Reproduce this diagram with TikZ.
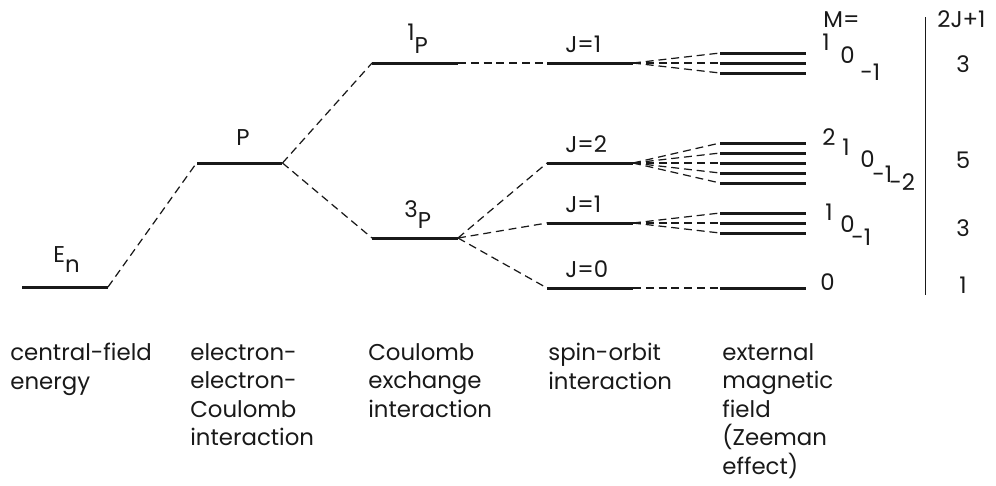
\documentclass[tikz,border=0pt]{standalone}
\usepackage{fontspec}
\setmainfont{Poppins}

\begin{document}
\begin{tikzpicture}[x=0.02cm,y=-0.02cm,
  level/.style={rectangle,fill=black!90,draw=none,inner sep=0,outer sep=0,
    minimum width=1.72cm,
    minimum height=1.7pt},
  trans/.style={black!90,line width=0.7pt,
    dash pattern=on 4.5pt off 2.8pt},
  lab/.style={anchor=base west,inner sep=0,text=black!90},
  num/.style={anchor=base,inner sep=0,text=black!90},
  note/.style={anchor=north west,inner sep=0,align=left,text=black!90}]
  \fontsize{13}{16.2}\selectfont
  \useasboundingbox (0,0) rectangle (996,485);
  % levels
  \node[level] (En) at (65,287) {};
  \node[level] (P) at (239.5,163) {};
  \node[level] (P1) at (415,63) {};
  \node[level] (P3) at (415,238) {};
  \node[level] (J1a) at (590,63) {};
  \node[level] (J2) at (590,163) {};
  \node[level] (J1b) at (590,223) {};
  \node[level] (J0) at (590,288) {};
  % Zeeman sublevels
  \node[level] (zA1) at (763,53) {};
  \node[level] (zA2) at (763,63) {};
  \node[level] (zA3) at (763,73) {};
  \node[level] (zB1) at (763,143) {};
  \node[level] (zB2) at (763,153) {};
  \node[level] (zB3) at (763,163) {};
  \node[level] (zB4) at (763,173) {};
  \node[level] (zB5) at (763,183) {};
  \node[level] (zC1) at (763,213) {};
  \node[level] (zC2) at (763,223) {};
  \node[level] (zC3) at (763,233) {};
  \node[level] (zD) at (763,288) {};
  % splittings
  \draw[trans] (En.east) -- (P.west);
  \draw[trans] (P.east) -- (P1.west);
  \draw[trans] (P.east) -- (P3.west);
  \draw[trans] (P1.east) -- (J1a.west);
  \draw[trans] (P3.east) -- (J2.west);
  \draw[trans] (P3.east) -- (J1b.west);
  \draw[trans] (P3.east) -- (J0.west);
  \draw[trans] (J1a.east) -- (zA1.west);
  \draw[trans] (J1a.east) -- (zA2.west);
  \draw[trans] (J1a.east) -- (zA3.west);
  \draw[trans] (J2.east) -- (zB1.west);
  \draw[trans] (J2.east) -- (zB2.west);
  \draw[trans] (J2.east) -- (zB3.west);
  \draw[trans] (J2.east) -- (zB4.west);
  \draw[trans] (J2.east) -- (zB5.west);
  \draw[trans] (J1b.east) -- (zC1.west);
  \draw[trans] (J1b.east) -- (zC2.west);
  \draw[trans] (J1b.east) -- (zC3.west);
  \draw[trans] (J0.east) -- (zD.west);
  % level labels
  \node[lab] (En-t) at (53,262) {E\raisebox{-5.7pt}{n}};
  \node[lab] (P-t) at (236,145) {P};
  \node[lab] (P1-t) at (407,53) {\raisebox{7.4pt}{1}P};
  \node[lab] (P3-t) at (404,228) {\raisebox{5.7pt}{3}P};
  \node[lab] (J1a-t) at (565,52) {J=1};
  \node[lab] (J2-t) at (565,152) {J=2};
  \node[lab] (J1b-t) at (565,212) {J=1};
  \node[lab] (J0-t) at (565,277) {J=0};
  % M values
  \node[lab] (M-t) at (823,27) {M=};
  \node[lab] (mA1) at (822,50) {1};
  \node[lab] (mA2) at (840,63) {0};
  \node[lab] (mA3) at (860,80) {-1};
  \node[lab] (mB1) at (822,145) {2};
  \node[lab] (mB2) at (842,155) {1};
  \node[lab] (mB3) at (860,167) {0};
  \node[lab] (mB4) at (872,182) {-1};
  \node[lab] (mB5) at (889,190) {-2};
  \node[lab] (mC1) at (825,220) {1};
  \node[lab] (mC2) at (840,232) {0};
  \node[lab] (mC3) at (851,245) {-1};
  \node[lab] (mD) at (820,290) {0};
  % multiplicity column
  \coordinate (bar-t) at (925,17);
  \coordinate (bar-b) at (925,295);
  \draw[black!90,line width=0.5pt] (bar-t) -- (bar-b);
  \node[lab] (g-t) at (937,27) {2J+1};
  \node[num] (gA) at (963,72) {3};
  \node[num] (gB) at (963,168) {5};
  \node[num] (gC) at (963,236) {3};
  \node[num] (gD) at (963,293) {1};
  % captions
  \node[note] (c1) at (10,343) {central-field\\energy};
  \node[note] (c2) at (190,343) {electron-\\electron-\\Coulomb\\interaction};
  \node[note] (c3) at (368,343) {Coulomb\\exchange\\interaction};
  \node[note] (c4) at (548,343) {spin-orbit\\interaction};
  \node[note] (c5) at (722,343) {external\\magnetic\\field\\(Zeeman\\effect)};
\end{tikzpicture}
\end{document}
